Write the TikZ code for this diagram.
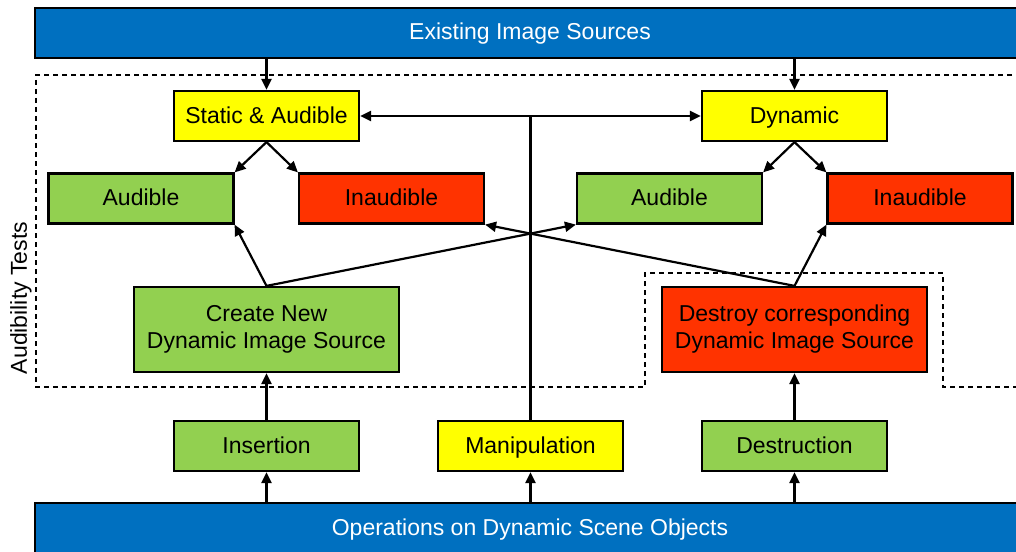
\documentclass[tikz,border=0pt]{standalone}
\usepackage{fontspec}
\setmainfont{Liberation Sans}
\usetikzlibrary{arrows.meta}
\definecolor{barblue}{HTML}{0070C0}
\definecolor{boxyellow}{HTML}{FFFF00}
\definecolor{boxgreen}{HTML}{92D050}
\definecolor{boxred}{HTML}{FF3300}
\tikzset{
  box/.style={draw, line width=2.2pt, minimum width=185pt, minimum height=50pt, inner sep=0pt, align=center, text height=17pt, text depth=3pt, font=\fontsize{23}{27}\selectfont},
  bigbox/.style={box, minimum width=265pt, minimum height=85pt, text height=, text depth=},
  bar/.style={box, fill=barblue, text=white, minimum width=990pt},
  conn/.style={line width=2.2pt},
}

\begin{document}
\begin{tikzpicture}[x=1pt, y=-1pt, >={Triangle[length=11pt,width=10pt]}]
\useasboundingbox (0,0) rectangle (1016,551);
\clip (0,0) rectangle (1016,551);

\node[bar] (src) at (530,33) {Existing Image Sources};
\node[bar] (ops) at (530,528) {Operations on Dynamic Scene Objects};

\draw[line width=2pt, dash pattern=on 5pt off 4pt] (1030,75) -- (36,75) -- (36,387) -- (645,387) -- (645,273) -- (943,273) -- (943,387) -- (1030,387);
\node[rotate=90, font=\fontsize{23}{27}\selectfont] (tests) at (21,298) {Audibility Tests};

\node[box, fill=boxyellow] (static) at (266.5,116) {Static \& Audible};
\node[box, fill=boxyellow] (dyn) at (794.5,116) {Dynamic};

\node[box, fill=boxgreen] (audl) at (141,198.5) {Audible};
\node[box, fill=boxred] (inaudl) at (391.5,198.5) {Inaudible};
\node[box, fill=boxgreen] (audr) at (669.5,198.5) {Audible};
\node[box, fill=boxred] (inaudr) at (920,198.5) {Inaudible};

\node[bigbox, fill=boxgreen] (create) at (266.5,329.5) {Create New\\Dynamic Image Source};
\node[bigbox, fill=boxred] (destroy) at (794.5,329.5) {Destroy corresponding\\Dynamic Image Source};

\node[box, fill=boxgreen] (ins) at (266.5,446) {Insertion};
\node[box, fill=boxyellow] (manip) at (530.5,446) {Manipulation};
\node[box, fill=boxgreen] (dest) at (794.5,446) {Destruction};

\draw[conn, ->] (static.north |- src.south) -- (static.north);
\draw[conn, ->] (dyn.north |- src.south) -- (dyn.north);

\draw[conn, <->] (static.east) -- (dyn.west);
\draw[conn] (manip.north) -- (manip.north |- static.east);

\draw[conn, ->] (static.south) -- (audl.north east);
\draw[conn, ->] (static.south) -- (inaudl.north west);
\draw[conn, ->] (dyn.south) -- (audr.north east);
\draw[conn, ->] (dyn.south) -- (inaudr.north west);

\draw[conn, ->] (create.north) -- (audl.south east);
\draw[conn, ->] (create.north) -- (audr.south west);
\draw[conn, ->] (destroy.north) -- (inaudr.south west);
\draw[conn, ->] (destroy.north) -- (inaudl.south east);

\draw[conn, ->] (ins.north) -- (create.south);
\draw[conn, ->] (dest.north) -- (destroy.south);

\draw[conn, ->] (ins.south |- ops.north) -- (ins.south);
\draw[conn, ->] (manip.south |- ops.north) -- (manip.south);
\draw[conn, ->] (dest.south |- ops.north) -- (dest.south);
\end{tikzpicture}
\end{document}
